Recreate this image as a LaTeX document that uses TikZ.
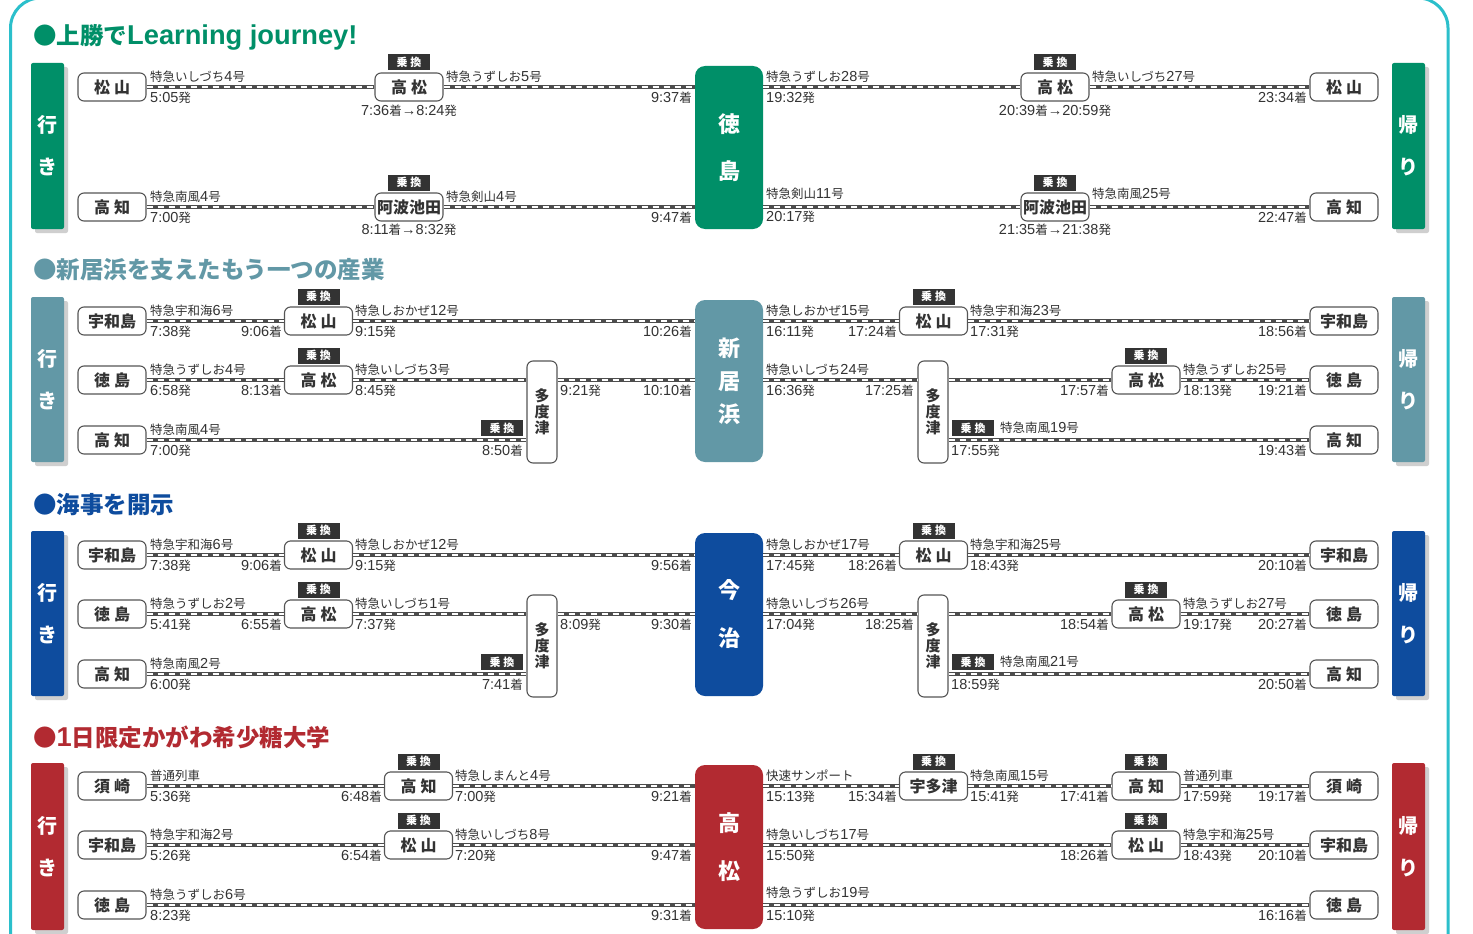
\documentclass[tikz,border=0pt]{standalone}
\usepackage{fontspec}
\setmainfont{Liberation Sans}[Scale=1.16]
\newfontfamily\cjkfont{Noto Sans CJK JP}
\XeTeXinterchartokenstate=1
\newXeTeXintercharclass\cjkcls
\count255="3000
\loop\XeTeXcharclass\count255=\cjkcls\ifnum\count255<"9FFF\advance\count255 by 1\repeat
\count255="FF00
\loop\XeTeXcharclass\count255=\cjkcls\ifnum\count255<"FFEF\advance\count255 by 1\repeat
\XeTeXinterchartoks 0 \cjkcls = {\begingroup\cjkfont}
\XeTeXinterchartoks 4095 \cjkcls = {\begingroup\cjkfont}
\XeTeXinterchartoks \cjkcls 0 = {\endgroup}
\XeTeXinterchartoks \cjkcls 4095 = {\endgroup}
\usetikzlibrary{shadows}
\definecolor{cgreen}{HTML}{008F68}
\definecolor{cteal}{HTML}{6298A6}
\definecolor{cblue}{HTML}{0E4C9E}
\definecolor{cred}{HTML}{B22A31}
\definecolor{cframe}{HTML}{2BBFCB}
\definecolor{ctxt}{HTML}{333333}
\definecolor{cstroke}{HTML}{555555}
\definecolor{crail}{HTML}{4D4D4D}
\definecolor{cxfer}{HTML}{333333}
\definecolor{cshadow}{HTML}{CFCFCF}
\newcounter{nl}
\newcommand\labW[3]{\stepcounter{nl}\node[lab,anchor=west] (t\arabic{nl}) at (#1,#2) {#3};}
\newcommand\labE[3]{\stepcounter{nl}\node[lab,anchor=east] (t\arabic{nl}) at (#1,#2) {#3};}
\newcommand\labC[3]{\stepcounter{nl}\node[lab] (t\arabic{nl}) at (#1,#2) {#3};}
\newcommand\stn[4]{\node[stn] (#1) at (#2,#3) {#4};}
\newcommand\xfer[3]{\node[xf] (#1) at (#2,#3) {乗\hspace{3pt}換};}
\newcommand\rail[2]{\draw[railbase] #1 -- #2; \draw[raildash] #1 -- #2;}
\newcommand\twoc[2]{#1\hspace{4pt}#2}
\begin{document}
\begin{tikzpicture}[x=1pt,y=-1pt,
  stn/.style={draw=cstroke, line width=1.1pt, rounded corners=6pt, fill=white, minimum width=68pt, minimum height=28pt, inner sep=0pt, text=ctxt, font=\fontsize{16}{16}\selectfont\bfseries},
  tdo/.style={stn, minimum width=30pt, minimum height=102pt, align=center, font=\fontsize{15}{16}\selectfont\bfseries},
  xf/.style={fill=cxfer, minimum width=42pt, minimum height=16pt, inner sep=0pt, text=white, font=\fontsize{11}{11}\selectfont\bfseries},
  lab/.style={inner sep=0pt, text=ctxt, font=\fontsize{12.5}{13}\selectfont},
  hub/.style={rounded corners=10pt, minimum width=68pt, inner sep=0pt, text=white, align=center},
  tabbox/.style={rounded corners=2pt, minimum width=33pt, inner sep=0pt, text=white, align=center, font=\fontsize{20}{42}\selectfont\bfseries, drop shadow={shadow xshift=4pt, shadow yshift=-4pt, fill=cshadow, opacity=1}},
  ttl/.style={anchor=west, inner sep=0pt, font=\fontsize{23.5}{24}\selectfont\bfseries},
  railbase/.style={crail, line width=4pt},
  raildash/.style={white, line width=1.5pt, dash pattern=on 6pt off 5pt}]
\useasboundingbox (0,0) rectangle (1473,934);
\fill[white] (0,0) rectangle (1473,934);
\draw[cframe, line width=3pt, rounded corners=30pt] (10.5,980) -- (10.5,-2) -- (1448,-2) -- (1448,980);

% ================= Section 1 =================
\node[ttl, text=cgreen] (title1) at (33,37) {{\cjkfont ●}上勝でLearning journey!};
\node[tabbox, fill=cgreen, minimum height=166pt] (go1) at (47.5,146) {行\\き};
\node[tabbox, fill=cgreen, minimum height=166pt] (ret1) at (1408.5,146) {帰\\り};
\node[hub, fill=cgreen, minimum height=163pt, font=\fontsize{22}{47}\selectfont\bfseries] (hub1) at (729,147.5) {徳\\島};
\stn{s1a1}{112}{87}{\twoc{松}{山}}
\stn{s1a2}{409}{87}{\twoc{高}{松}}
\xfer{x1a2}{409}{62.5}
\stn{s1a3}{1055}{87}{\twoc{高}{松}}
\xfer{x1a3}{1055}{62.5}
\stn{s1a4}{1344}{87}{\twoc{松}{山}}
\stn{s1b1}{112}{207}{\twoc{高}{知}}
\stn{s1b2}{409}{207}{阿波池田}
\xfer{x1b2}{409}{182.5}
\stn{s1b3}{1055}{207}{阿波池田}
\xfer{x1b3}{1055}{182.5}
\stn{s1b4}{1344}{207}{\twoc{高}{知}}
\rail{(s1a1.east)}{(s1a2.west)}
\rail{(s1a2.east)}{(hub1.west |- s1a2.east)}
\rail{(hub1.east |- s1a3.west)}{(s1a3.west)}
\rail{(s1a3.east)}{(s1a4.west)}
\rail{(s1b1.east)}{(s1b2.west)}
\rail{(s1b2.east)}{(hub1.west |- s1b2.east)}
\rail{(hub1.east |- s1b3.west)}{(s1b3.west)}
\rail{(s1b3.east)}{(s1b4.west)}
\labW{150}{76.5}{特急いしづち4号}
\labW{150}{98}{5:05発}
\labC{409}{111}{7:36着→8:24発}
\labW{446}{76.5}{特急うずしお5号}
\labE{692}{98}{9:37着}
\labW{766}{76.5}{特急うずしお28号}
\labW{766}{98}{19:32発}
\labC{1055}{111}{20:39着→20:59発}
\labW{1092}{76.5}{特急いしづち27号}
\labE{1307}{98}{23:34着}
\labW{150}{196.5}{特急南風4号}
\labW{150}{218}{7:00発}
\labC{409}{230}{8:11着→8:32発}
\labW{446}{196.5}{特急剣山4号}
\labE{692}{218}{9:47着}
\labW{766}{194}{特急剣山11号}
\labW{766}{217}{20:17発}
\labC{1055}{230}{21:35着→21:38発}
\labW{1092}{194}{特急南風25号}
\labE{1307}{218}{22:47着}

% ================= Section 2 =================
\node[ttl, text=cteal] (title2) at (33,270) {{\cjkfont ●}新居浜を支えたもう一つの産業};
\node[tabbox, fill=cteal, minimum height=165pt] (go2) at (47.5,379.5) {行\\き};
\node[tabbox, fill=cteal, minimum height=165pt] (ret2) at (1408.5,379.5) {帰\\り};
\node[hub, fill=cteal, minimum height=162pt, font=\fontsize{22}{33}\selectfont\bfseries] (hub2) at (729,381) {新\\居\\浜};
\stn{s2a1}{112}{321}{宇和島}
\stn{s2a2}{318.5}{321}{\twoc{松}{山}}
\xfer{x2a2}{318.5}{296.5}
\stn{s2a3}{933.5}{321}{\twoc{松}{山}}
\xfer{x2a3}{933.5}{296.5}
\stn{s2a4}{1344}{321}{宇和島}
\stn{s2b1}{112}{380}{\twoc{徳}{島}}
\stn{s2b2}{318.5}{380}{\twoc{高}{松}}
\xfer{x2b2}{318.5}{355.5}
\node[tdo] (td2L) at (542,412) {多\\度\\津};
\node[tdo] (td2R) at (933,412) {多\\度\\津};
\stn{s2b3}{1146}{380}{\twoc{高}{松}}
\xfer{x2b3}{1146}{355.5}
\stn{s2b4}{1344}{380}{\twoc{徳}{島}}
\stn{s2c1}{112}{440}{\twoc{高}{知}}
\xfer{x2c1}{502}{428}
\xfer{x2c2}{973}{428}
\stn{s2c2}{1344}{440}{\twoc{高}{知}}
\rail{(s2a1.east)}{(s2a2.west)}
\rail{(s2a2.east)}{(hub2.west |- s2a2.east)}
\rail{(hub2.east |- s2a3.west)}{(s2a3.west)}
\rail{(s2a3.east)}{(s2a4.west)}
\rail{(s2b1.east)}{(s2b2.west)}
\rail{(s2b2.east)}{(td2L.west |- s2b2.east)}
\rail{(td2L.east |- s2b2.east)}{(hub2.west |- s2b2.east)}
\rail{(hub2.east |- s2b3.west)}{(td2R.west |- s2b3.west)}
\rail{(td2R.east |- s2b3.west)}{(s2b3.west)}
\rail{(s2b3.east)}{(s2b4.west)}
\rail{(s2c1.east)}{(td2L.west |- s2c1.east)}
\rail{(td2R.east |- s2c2.west)}{(s2c2.west)}
\labW{150}{310.5}{特急宇和海6号}
\labW{150}{332}{7:38発}
\labE{282}{332}{9:06着}
\labW{355}{310.5}{特急しおかぜ12号}
\labW{355}{332}{9:15発}
\labE{692}{332}{10:26着}
\labW{766}{310.5}{特急しおかぜ15号}
\labW{766}{332}{16:11発}
\labE{897}{332}{17:24着}
\labW{970}{310.5}{特急宇和海23号}
\labW{970}{332}{17:31発}
\labE{1307}{332}{18:56着}
\labW{150}{369.5}{特急うずしお4号}
\labW{150}{391}{6:58発}
\labE{282}{391}{8:13着}
\labW{355}{369.5}{特急いしづち3号}
\labW{355}{391}{8:45発}
\labW{560}{391}{9:21発}
\labE{692}{391}{10:10着}
\labW{766}{369.5}{特急いしづち24号}
\labW{766}{391}{16:36発}
\labE{914}{391}{17:25着}
\labE{1109}{391}{17:57着}
\labW{1183}{369.5}{特急うずしお25号}
\labW{1183}{391}{18:13発}
\labE{1307}{391}{19:21着}
\labW{150}{429.5}{特急南風4号}
\labW{150}{451}{7:00発}
\labE{523}{451}{8:50着}
\labW{1000}{428}{特急南風19号}
\labW{951}{451}{17:55発}
\labE{1307}{451}{19:43着}

% ================= Section 3 =================
\node[ttl, text=cblue] (title3) at (33,505) {{\cjkfont ●}海事を開示};
\node[tabbox, fill=cblue, minimum height=165pt] (go3) at (47.5,613.5) {行\\き};
\node[tabbox, fill=cblue, minimum height=165pt] (ret3) at (1408.5,613.5) {帰\\り};
\node[hub, fill=cblue, minimum height=163pt, font=\fontsize{22}{48}\selectfont\bfseries] (hub3) at (729,614.5) {今\\治};
\stn{s3a1}{112}{555}{宇和島}
\stn{s3a2}{318.5}{555}{\twoc{松}{山}}
\xfer{x3a2}{318.5}{530.5}
\stn{s3a3}{933.5}{555}{\twoc{松}{山}}
\xfer{x3a3}{933.5}{530.5}
\stn{s3a4}{1344}{555}{宇和島}
\stn{s3b1}{112}{614}{\twoc{徳}{島}}
\stn{s3b2}{318.5}{614}{\twoc{高}{松}}
\xfer{x3b2}{318.5}{589.5}
\node[tdo] (td3L) at (542,646) {多\\度\\津};
\node[tdo] (td3R) at (933,646) {多\\度\\津};
\stn{s3b3}{1146}{614}{\twoc{高}{松}}
\xfer{x3b3}{1146}{589.5}
\stn{s3b4}{1344}{614}{\twoc{徳}{島}}
\stn{s3c1}{112}{674}{\twoc{高}{知}}
\xfer{x3c1}{502}{662}
\xfer{x3c2}{973}{662}
\stn{s3c2}{1344}{674}{\twoc{高}{知}}
\rail{(s3a1.east)}{(s3a2.west)}
\rail{(s3a2.east)}{(hub3.west |- s3a2.east)}
\rail{(hub3.east |- s3a3.west)}{(s3a3.west)}
\rail{(s3a3.east)}{(s3a4.west)}
\rail{(s3b1.east)}{(s3b2.west)}
\rail{(s3b2.east)}{(td3L.west |- s3b2.east)}
\rail{(td3L.east |- s3b2.east)}{(hub3.west |- s3b2.east)}
\rail{(hub3.east |- s3b3.west)}{(td3R.west |- s3b3.west)}
\rail{(td3R.east |- s3b3.west)}{(s3b3.west)}
\rail{(s3b3.east)}{(s3b4.west)}
\rail{(s3c1.east)}{(td3L.west |- s3c1.east)}
\rail{(td3R.east |- s3c2.west)}{(s3c2.west)}
\labW{150}{544.5}{特急宇和海6号}
\labW{150}{566}{7:38発}
\labE{282}{566}{9:06着}
\labW{355}{544.5}{特急しおかぜ12号}
\labW{355}{566}{9:15発}
\labE{692}{566}{9:56着}
\labW{766}{544.5}{特急しおかぜ17号}
\labW{766}{566}{17:45発}
\labE{897}{566}{18:26着}
\labW{970}{544.5}{特急宇和海25号}
\labW{970}{566}{18:43発}
\labE{1307}{566}{20:10着}
\labW{150}{603.5}{特急うずしお2号}
\labW{150}{625}{5:41発}
\labE{282}{625}{6:55着}
\labW{355}{603.5}{特急いしづち1号}
\labW{355}{625}{7:37発}
\labW{560}{625}{8:09発}
\labE{692}{625}{9:30着}
\labW{766}{603.5}{特急いしづち26号}
\labW{766}{625}{17:04発}
\labE{914}{625}{18:25着}
\labE{1109}{625}{18:54着}
\labW{1183}{603.5}{特急うずしお27号}
\labW{1183}{625}{19:17発}
\labE{1307}{625}{20:27着}
\labW{150}{663.5}{特急南風2号}
\labW{150}{685}{6:00発}
\labE{523}{685}{7:41着}
\labW{1000}{662}{特急南風21号}
\labW{951}{685}{18:59発}
\labE{1307}{685}{20:50着}

% ================= Section 4 =================
\node[ttl, text=cred] (title4) at (33,737) {{\cjkfont ●}1日限定かがわ希少糖大学};
\node[tabbox, fill=cred, minimum height=167pt] (go4) at (47.5,846.5) {行\\き};
\node[tabbox, fill=cred, minimum height=167pt] (ret4) at (1408.5,846.5) {帰\\り};
\node[hub, fill=cred, minimum height=164pt, font=\fontsize{22}{48}\selectfont\bfseries] (hub4) at (729,847) {高\\松};
\stn{s4a1}{112}{786}{\twoc{須}{崎}}
\stn{s4a2}{418.5}{786}{\twoc{高}{知}}
\xfer{x4a2}{418.5}{761.5}
\stn{s4a3}{933.5}{786}{宇多津}
\xfer{x4a3}{933.5}{761.5}
\stn{s4a4}{1146}{786}{\twoc{高}{知}}
\xfer{x4a4}{1146}{761.5}
\stn{s4a5}{1344}{786}{\twoc{須}{崎}}
\stn{s4b1}{112}{845}{宇和島}
\stn{s4b2}{418.5}{845}{\twoc{松}{山}}
\xfer{x4b2}{418.5}{820.5}
\stn{s4b3}{1146}{845}{\twoc{松}{山}}
\xfer{x4b3}{1146}{820.5}
\stn{s4b4}{1344}{845}{宇和島}
\stn{s4c1}{112}{905}{\twoc{徳}{島}}
\stn{s4c2}{1344}{905}{\twoc{徳}{島}}
\rail{(s4a1.east)}{(s4a2.west)}
\rail{(s4a2.east)}{(hub4.west |- s4a2.east)}
\rail{(hub4.east |- s4a3.west)}{(s4a3.west)}
\rail{(s4a3.east)}{(s4a4.west)}
\rail{(s4a4.east)}{(s4a5.west)}
\rail{(s4b1.east)}{(s4b2.west)}
\rail{(s4b2.east)}{(hub4.west |- s4b2.east)}
\rail{(hub4.east |- s4b3.west)}{(s4b3.west)}
\rail{(s4b3.east)}{(s4b4.west)}
\rail{(s4c1.east)}{(hub4.west |- s4c1.east)}
\rail{(hub4.east |- s4c2.west)}{(s4c2.west)}
\labW{150}{775.5}{普通列車}
\labW{150}{797}{5:36発}
\labE{382}{797}{6:48着}
\labW{455}{775.5}{特急しまんと4号}
\labW{455}{797}{7:00発}
\labE{692}{797}{9:21着}
\labW{766}{775.5}{快速サンポート}
\labW{766}{797}{15:13発}
\labE{897}{797}{15:34着}
\labW{970}{775.5}{特急南風15号}
\labW{970}{797}{15:41発}
\labE{1109}{797}{17:41着}
\labW{1183}{775.5}{普通列車}
\labW{1183}{797}{17:59発}
\labE{1307}{797}{19:17着}
\labW{150}{834.5}{特急宇和海2号}
\labW{150}{856}{5:26発}
\labE{382}{856}{6:54着}
\labW{455}{834.5}{特急いしづち8号}
\labW{455}{856}{7:20発}
\labE{692}{856}{9:47着}
\labW{766}{834.5}{特急いしづち17号}
\labW{766}{856}{15:50発}
\labE{1109}{856}{18:26着}
\labW{1183}{834.5}{特急宇和海25号}
\labW{1183}{856}{18:43発}
\labE{1307}{856}{20:10着}
\labW{150}{894.5}{特急うずしお6号}
\labW{150}{916}{8:23発}
\labE{692}{916}{9:31着}
\labW{766}{893}{特急うずしお19号}
\labW{766}{916}{15:10発}
\labE{1307}{916}{16:16着}
\end{tikzpicture}
\end{document}
